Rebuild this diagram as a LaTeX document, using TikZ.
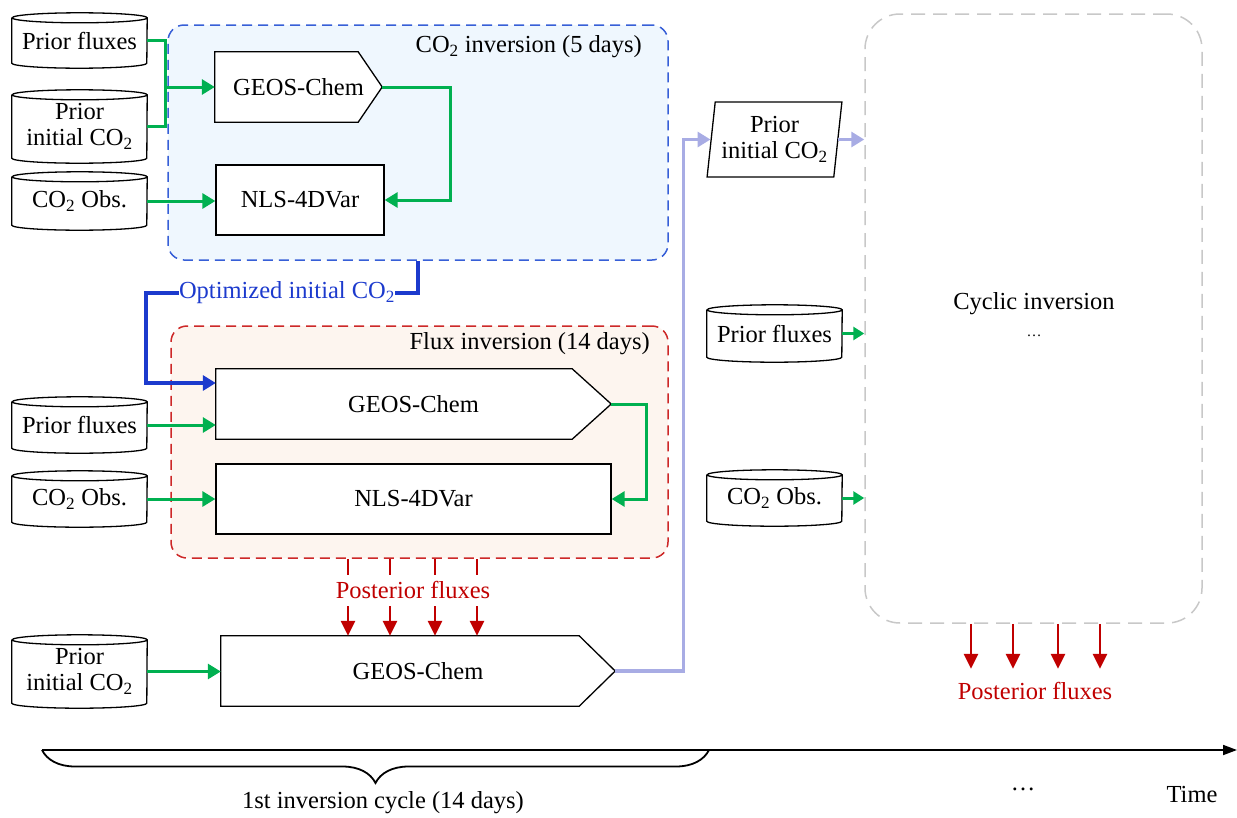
\documentclass[tikz,border=0pt]{standalone}
\usepackage{fontspec}
\setmainfont{Liberation Serif}
\usetikzlibrary{shapes.geometric,arrows.meta,decorations.pathreplacing,calc}
\definecolor{gr}{RGB}{0,176,80}
\definecolor{bl}{RGB}{28,58,205}
\definecolor{bldash}{RGB}{55,95,215}
\definecolor{blfill}{RGB}{239,247,254}
\definecolor{rd}{RGB}{192,0,0}
\definecolor{rddash}{RGB}{205,40,40}
\definecolor{rdfill}{RGB}{253,245,239}
\definecolor{lav}{RGB}{168,172,228}
\definecolor{gydash}{RGB}{200,200,200}
\pgfdeclarelayer{bg}
\pgfsetlayers{bg,main}
\newcommand\cylout[1]{\draw[line width=1.3pt] ([yshift=-5pt]#1.north west) -- ([yshift=5pt]#1.south west) arc[start angle=180,end angle=360,x radius=67.5pt,y radius=5pt] -- ([yshift=-5pt]#1.north east) arc[start angle=0,end angle=360,x radius=67.5pt,y radius=5pt];}
\newcommand\pentout[2]{\begin{pgfonlayer}{bg}\draw[line width=1.3pt,fill=white] (#1.north west) -- ([xshift=-#2]#1.north east) -- (#1.east) -- ([xshift=-#2]#1.south east) -- (#1.south west) -- cycle;\end{pgfonlayer}}
\begin{document}
\begin{tikzpicture}[x=1pt,y=1pt,
  every node/.style={font=\fontsize{24.5}{26}\selectfont},
  proc/.style={draw=black,line width=1.3pt,fill=white,minimum height=70pt,inner sep=0pt},
  sig/.style={minimum height=70pt,inner sep=0pt},
  db/.style={inner sep=0pt,minimum width=135pt,align=center},
  gline/.style={draw=gr,line width=3pt},
  garrow/.style={gline,-{Triangle[length=13pt,width=15pt]}},
  garrowsm/.style={gline,-{Triangle[length=11pt,width=13pt]}},
  barrow/.style={draw=bl,line width=3.2pt,-{Triangle[length=13pt,width=15pt]}},
  larrow/.style={draw=lav,line width=3.2pt,-{Triangle[length=13pt,width=15pt]}},
  rline/.style={draw=rd,line width=2.8pt},
  rarrow/.style={rline,-{Triangle[length=15pt,width=14pt]}},
  frame/.style={line width=1.5pt,dash pattern=on 10pt off 6pt,inner sep=0pt},
]
\useasboundingbox (0,0) rectangle (1237,-817);

% ---- frames
\begin{pgfonlayer}{bg}
\node[frame,draw=bldash,fill=blfill,rounded corners=16pt,minimum width=500pt,minimum height=235pt] (co2box) at (418,-142.5) {};
\node[frame,draw=rddash,fill=rdfill,rounded corners=16pt,minimum width=497pt,minimum height=232pt] (fluxbox) at (419.5,-442) {};
\node[frame,draw=gydash,rounded corners=35pt,dash pattern=on 14pt off 8pt,minimum width=337pt,minimum height=609pt] (cyc) at (1033.5,-318.5) {};
\end{pgfonlayer}

\node[anchor=east,inner sep=0pt] (t1) at (642,-47) {CO\textsubscript{2} inversion (5 days)};
\node[anchor=east,inner sep=0pt] (t2) at (650,-344) {Flux inversion (14 days)};
\node[inner sep=0pt] (cyct) at (1034,-304) {Cyclic inversion};
\node[inner sep=0pt,font=\fontsize{15}{16}\selectfont] (cycd) at (1034,-336) {\dots};

% ---- top section
\node[db,minimum height=55pt] (pf1) at (79.5,-40.5) {Prior fluxes};
\node[db,minimum height=73pt] (pi1) at (79.5,-126.5) {Prior\\initial CO\textsubscript{2}};
\node[db,minimum height=58pt] (ob1) at (79.5,-201) {CO\textsubscript{2} Obs.};
\cylout{pf1}\cylout{pi1}\cylout{ob1}
\node[sig,minimum width=167pt] (geos1) at (298.5,-87) {GEOS-Chem};
\pentout{geos1}{24pt}
\node[proc,minimum width=168pt] (nls1) at (300,-200) {NLS-4DVar};
\coordinate (j1) at (165,-87);
\draw[gline] (pf1.east) -| (j1);
\draw[gline] (pi1.east) -| (j1);
\draw[garrow] (j1) -- (geos1.west);
\draw[garrow] (ob1.east) -- (ob1.east -| nls1.west);
\draw[garrow] (geos1.east) -| ([xshift=66pt]nls1.east) -- (nls1.east);

% ---- optimized initial CO2
\node[inner sep=0pt,text=bl] (opt) at (287,-293) {Optimized initial CO\textsubscript{2}};
\draw[draw=bl,line width=3.2pt] (co2box.south) |- (opt.east);
\coordinate (bc) at (146,-383);

% ---- flux section
\node[db,minimum height=56pt] (pf2) at (79.5,-425) {Prior fluxes};
\node[db,minimum height=56pt] (ob2) at (79.5,-499) {CO\textsubscript{2} Obs.};
\cylout{pf2}\cylout{ob2}
\node[sig,minimum width=395pt] (geos2) at (413.5,-404) {GEOS-Chem};
\pentout{geos2}{39pt}
\node[proc,minimum width=395pt] (nls2) at (413.5,-499) {NLS-4DVar};
\draw[barrow] (opt.west) -| (bc) -- (bc -| geos2.west);
\draw[garrow] (pf2.east) -- (pf2.east -| geos2.west);
\draw[garrow] (ob2.east) -- (ob2.east -| nls2.west);
\draw[garrow] (geos2.east) -| ([xshift=35pt]nls2.east) -- (nls2.east);

% ---- posterior fluxes -> GEOS-Chem
\node[inner sep=0pt,text=rd] (post1) at (413,-590) {Posterior fluxes};
\node[db,minimum height=73pt] (pi3) at (79.5,-671.5) {Prior\\initial CO\textsubscript{2}};
\cylout{pi3}
\node[sig,minimum width=394pt] (geos3) at (418,-671) {GEOS-Chem};
\pentout{geos3}{36pt}
\foreach \x in {348,390,435,477}{
  \draw[rline] (\x,0 |- fluxbox.south) -- ++(0,-16);
  \draw[rarrow] (\x,-606) -- (\x,0 |- geos3.north);
}
\draw[garrow] (pi3.east) -- (pi3.east -| geos3.west);

% ---- right side
\node[draw=black,line width=1.3pt,fill=white,trapezium,trapezium left angle=81,trapezium right angle=99,trapezium stretches=true,minimum width=135pt,minimum height=75pt,inner sep=0pt,align=center] (para) at (774.5,-139.5) {Prior\\initial CO\textsubscript{2}};
\draw[larrow] (geos3.east) -| ($(para.west)+(-27pt,0)$) -- (para.west);
\draw[larrow] (para.east) -- (para.east -| cyc.west);
\node[db,minimum height=57pt] (pf3) at (774.5,-333.5) {Prior fluxes};
\node[db,minimum height=56pt] (ob3) at (774.5,-498) {CO\textsubscript{2} Obs.};
\cylout{pf3}\cylout{ob3}
\draw[garrowsm] (pf3.east) -- (pf3.east -| cyc.west);
\draw[garrowsm] (ob3.east) -- (ob3.east -| cyc.west);
\foreach \x in {971,1013,1058,1100}{
  \draw[rarrow] (\x,0 |- cyc.south) -- ++(0,-45);
}
\node[inner sep=0pt,text=rd] (post2) at (1035,-691) {Posterior fluxes};

% ---- time axis
\coordinate (ax0) at (42,-750);
\coordinate (ax1) at (1237,-750);
\coordinate (br1) at (709,-750);
\draw[line width=1.8pt,-{Triangle[length=14pt,width=10pt]}] (ax0) -- (ax1);
\draw[line width=1.8pt,decorate,decoration={brace,mirror,amplitude=33pt,aspect=0.5}] (ax0) -- (br1);
\node[inner sep=0pt] (cyc1) at (383,-803) {1st inversion cycle (14 days)};
\node[inner sep=0pt] (dots) at (1023,-789) {\dots};
\node[inner sep=0pt] (time) at (1192,-794) {Time};
\end{tikzpicture}
\end{document}
